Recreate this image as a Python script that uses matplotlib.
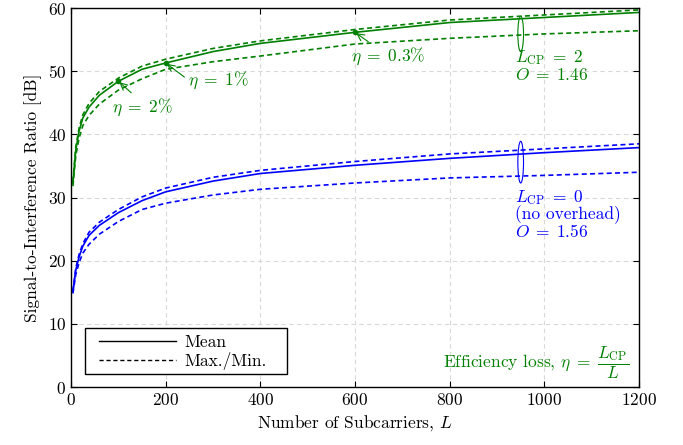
import matplotlib
matplotlib.use('Agg')
import matplotlib.pyplot as plt
from matplotlib.patches import Ellipse, Rectangle

plt.rcParams['font.family'] = 'serif'
plt.rcParams['font.serif'] = ['cmr10']
plt.rcParams['mathtext.fontset'] = 'cm'
plt.rcParams['axes.formatter.use_mathtext'] = True

# number of subcarriers
L = [4, 10, 17, 25, 38, 60, 100, 150, 200, 300, 400, 600, 800, 1000, 1200]

# L_CP = 2 (green)
cp2_mean = [32.3, 37.5, 40.5, 42.6, 44.3, 46.2, 48.4, 50.3, 51.3, 53.1, 54.4, 56.15, 57.7, 58.5, 59.3]
cp2_max = [32.5, 38.0, 41.0, 43.1, 44.9, 46.8, 48.9, 50.8, 51.9, 53.6, 54.8, 56.6, 58.1, 58.9, 59.7]
cp2_min = [31.8, 36.6, 39.4, 41.4, 43.0, 44.8, 47.0, 48.8, 50.3, 51.5, 52.4, 54.3, 55.2, 55.9, 56.4]

# L_CP = 0 (blue)
cp0_mean = [15.1, 18.5, 20.6, 22.3, 24.0, 25.6, 27.6, 29.5, 30.9, 32.6, 33.8, 35.1, 36.2, 37.1, 37.9]
cp0_max = [15.2, 18.8, 21.0, 22.7, 24.5, 26.1, 28.1, 30.1, 31.5, 33.2, 34.3, 35.7, 36.9, 37.7, 38.5]
cp0_min = [14.8, 17.8, 19.7, 21.2, 22.6, 24.2, 26.2, 28.1, 29.1, 30.4, 31.3, 32.3, 33.1, 33.5, 34.0]

# efficiency-loss markers on the green mean curve
eta_L = [100, 200, 600]
eta_labels = [r'$\eta\;=\;2\%$', r'$\eta\;=\;1\%$', r'$\eta\;=\;0.3\%$']
eta_text_pos = [(150, 44.3), (312, 48.6), (670, 52.4)]
eta_relpos = [(0.39, 1.0), (0.0, 0.5), (0.3, 1.0)]

green = '#008000'
blue = '#0000ff'
fs = 12.5
dash = (0, (3, 2))

fig = plt.figure(figsize=(6.83, 4.45), dpi=100)
ax = fig.add_axes([0.104, 0.1303, 0.8316, 0.8517])

ax.plot(L, cp2_mean, color=green, lw=1.2)
ax.plot(L, cp2_max, color=green, lw=1.2, ls=dash)
ax.plot(L, cp2_min, color=green, lw=1.2, ls=dash)
ax.plot(L, cp0_mean, color=blue, lw=1.2)
ax.plot(L, cp0_max, color=blue, lw=1.2, ls=dash)
ax.plot(L, cp0_min, color=blue, lw=1.2, ls=dash)

for li, lab, pos, rp in zip(eta_L, eta_labels, eta_text_pos, eta_relpos):
    yv = cp2_mean[L.index(li)]
    ax.plot(li, yv, marker='o', ms=3, color=green)
    ax.annotate(lab, xy=(li, yv), xytext=pos, color=green, fontsize=fs,
                ha='center', va='center',
                arrowprops=dict(arrowstyle='->', color=green, lw=0.8,
                                shrinkA=1, shrinkB=1, relpos=rp))

# ellipses grouping max/mean/min
ax.add_patch(Ellipse((950, 55.9), 12, 5.6, fill=False, ec=green, lw=0.8))
ax.add_patch(Ellipse((950, 35.6), 12, 6.6, fill=False, ec=blue, lw=0.8))

ax.text(938, 53.6, '$L_{\\mathrm{CP}}\\;=\\;2$\n$O\\;=\\;1.46$', color=green,
        fontsize=fs, va='top', linespacing=0.95)
ax.text(938, 31.5, '$L_{\\mathrm{CP}}\\;=\\;0$\n(no overhead)\n$O\\;=\\;1.56$',
        color=blue, fontsize=fs, va='top', linespacing=0.9)

ax.text(1178, 3.9, r'Efficiency loss, $\eta\;=\;\dfrac{L_{\mathrm{CP}}}{L}$',
        color=green, fontsize=fs, ha='right', va='center')

ax.set_xlim(0, 1200)
ax.set_ylim(0, 60)
ax.set_xticks(range(0, 1201, 200))
ax.set_yticks(range(0, 61, 10))
ax.tick_params(direction='in', top=True, right=True, labelsize=fs, length=4)
ax.grid(True, color='#d9d9d9', ls=(0, (4, 3)), lw=0.8)
for s in ax.spines.values():
    s.set_linewidth(1.0)

ax.set_xlabel(r'Number of Subcarriers, $L$', fontsize=fs)
ax.set_ylabel('Signal-to-Interference Ratio [dB]', fontsize=fs)

# legend entries in black with a hand-placed frame
ax.plot([], [], color='k', lw=1.0, label='Mean')
ax.plot([], [], color='k', lw=1.0, ls=dash, label='Max./Min.')
ax.add_patch(Rectangle((0.0246, 0.0343), 0.355, 0.1214, transform=ax.transAxes,
                       fill=True, fc='white', ec='k', lw=1.0, zorder=4))
leg = ax.legend(loc='lower left', fontsize=fs, frameon=False,
                handlelength=4.4, handletextpad=0.5, borderpad=0,
                borderaxespad=0, labelspacing=0.1,
                bbox_to_anchor=(0.05, 0.045))
leg.set_zorder(5)

fig.savefig('out.png', dpi=100)
